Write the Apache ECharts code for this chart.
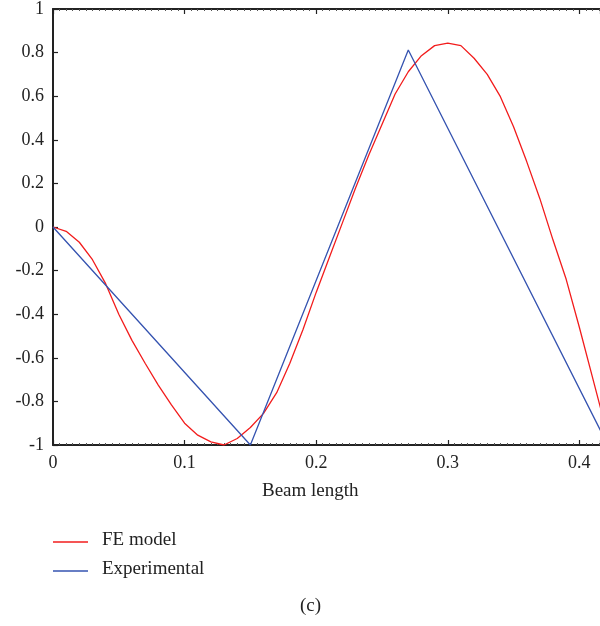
<!DOCTYPE html>
<html>
<head>
<meta charset="utf-8">
<script src="https://cdn.jsdelivr.net/npm/echarts@6/dist/echarts.min.js"></script>
<style>
html,body{margin:0;padding:0;background:#fff;}
#chart{width:600px;height:626px;}
</style>
</head>
<body>
<div id="chart"></div>
<script>
// FE model (red) samples
const feX = [0,0.01,0.02,0.03,0.04,0.05,0.06,0.07,0.08,0.09,0.10,0.11,0.12,0.13,0.14,0.15,0.16,0.17,0.18,0.19,0.20,0.21,0.22,0.23,0.24,0.25,0.26,0.27,0.28,0.29,0.30,0.31,0.32,0.33,0.34,0.35,0.36,0.37,0.38,0.39,0.40,0.41,0.42];
const feY = [0,-0.02,-0.07,-0.15,-0.26,-0.40,-0.52,-0.625,-0.725,-0.816,-0.90,-0.955,-0.986,-1.0,-0.97,-0.92,-0.855,-0.76,-0.625,-0.47,-0.30,-0.14,0.02,0.18,0.33,0.47,0.61,0.712,0.786,0.832,0.843,0.832,0.774,0.70,0.598,0.46,0.30,0.13,-0.06,-0.24,-0.46,-0.69,-0.92];
// Experimental (blue)
const expX = [0,0.15,0.27,0.42];
const expY = [0,-1,0.812,-0.98];
const yTicks = ['-1','-0.8','-0.6','-0.4','-0.2','0','0.2','0.4','0.6','0.8','1'];
const xLabel = 'Beam length';
const legendNames = ['FE model','Experimental'];
const caption = '(c)';

const FONT = 'Liberation Serif';
const red = '#f21c1c';
const blue = '#3553b0';
const pair = (xs, ys) => xs.map((x,i)=>[x, ys[i]]);

const chart = echarts.init(document.getElementById('chart'));
const xmax = 0.4157;
const axisCommon = {
  type:'value', min:0, max:xmax, interval:0.1,
  axisLine:{show:true, onZero:false, lineStyle:{color:'#222', width:2}},
  axisTick:{show:true, inside:true, length:5, lineStyle:{color:'#222', width:1.2}},
  minorTick:{show:true, splitNumber:20, length:2, lineStyle:{color:'#555', width:1}},
  splitLine:{show:false}
};
chart.setOption({
  animation:false,
  backgroundColor:'#fff',
  grid:{left:53, top:9, right:0, bottom:181, containLabel:false},
  xAxis:[
    Object.assign({}, axisCommon, {
      position:'bottom',
      axisLabel:{show:true, color:'#222', fontFamily:FONT, fontSize:18, margin:9,
        showMaxLabel:false,
        formatter:function(v){ const r=Math.round(v*10)/10; return Math.abs(r-v)<1e-6 ? String(r) : ''; }}
    }),
    Object.assign({}, axisCommon, {
      position:'top', axisLabel:{show:false}
    })
  ],
  yAxis:{
    type:'value', min:-1, max:1, interval:0.2,
    axisLine:{show:true, onZero:false, lineStyle:{color:'#222', width:2}},
    axisTick:{show:true, inside:true, length:5, lineStyle:{color:'#222', width:1.2}},
    splitLine:{show:false},
    axisLabel:{color:'#222', fontFamily:FONT, fontSize:18, margin:9,
      formatter:function(v){ const i = Math.round((v+1)/0.2); return yTicks[i]; }}
  },
  legend:{show:false},
  series:[
    {name:legendNames[0], type:'line', data:pair(feX,feY), showSymbol:false, clip:true,
     lineStyle:{color:red, width:1.3}, itemStyle:{color:red}},
    {name:legendNames[1], type:'line', data:pair(expX,expY), showSymbol:false, clip:true,
     lineStyle:{color:blue, width:1.3}, itemStyle:{color:blue}}
  ],
  graphic:[
    {type:'text', left:316-54, top:482, style:{text:xLabel, font:'19px "Liberation Serif"', fill:'#222'}},
    {type:'line', shape:{x1:53,y1:542,x2:88,y2:542}, style:{stroke:red, lineWidth:1.5}},
    {type:'line', shape:{x1:53,y1:571,x2:88,y2:571}, style:{stroke:blue, lineWidth:1.5}},
    {type:'text', left:102, top:531, style:{text:legendNames[0], font:'19px "Liberation Serif"', fill:'#222'}},
    {type:'text', left:102, top:560, style:{text:legendNames[1], font:'19px "Liberation Serif"', fill:'#222'}},
    {type:'text', left:300, top:597, style:{text:caption, font:'19px "Liberation Serif"', fill:'#222'}}
  ]
});
</script>
</body>
</html>
